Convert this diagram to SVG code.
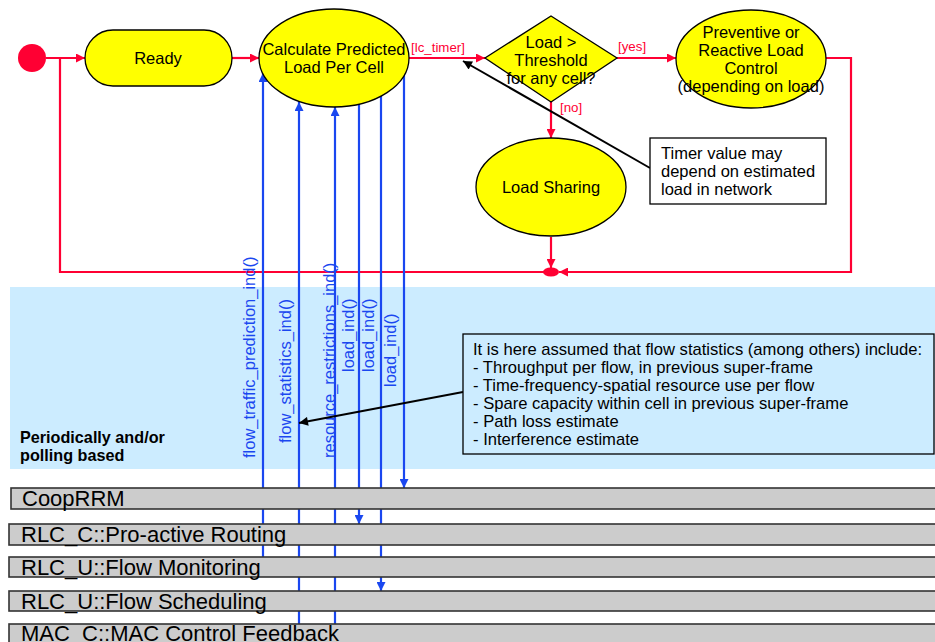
<svg xmlns="http://www.w3.org/2000/svg" width="935" height="642" viewBox="0 0 935 642">
  <style>
    .node { fill: #ffff00; stroke: #000; stroke-width: 1.3; }
    .ntxt { font-family: "Liberation Sans", Arial, sans-serif; font-size: 16.5px; fill: #000; text-anchor: middle; }
    .red { stroke: #ff0033; stroke-width: 2.2; fill: none; }
    .blue { stroke: #1a47f0; stroke-width: 2.2; fill: none; }
    .blk { stroke: #000; stroke-width: 2; fill: none; }
    .guard { font-family: "Liberation Sans", Arial, sans-serif; font-size: 13.3px; fill: #ff0033; }
    .msg { font-family: "Liberation Sans", Arial, sans-serif; font-size: 16.5px; fill: #1a47f0; }
    .note { font-family: "Liberation Sans", Arial, sans-serif; font-size: 16.5px; fill: #000; }
    .note2 { font-family: "Liberation Sans", Arial, sans-serif; font-size: 16.6px; fill: #000; }
    .lane { fill: #cccccc; stroke: #333; stroke-width: 1.6; }
    .ltxt { font-family: "Liberation Sans", Arial, sans-serif; font-size: 22px; fill: #000; }
    .band { font-family: "Liberation Sans", Arial, sans-serif; font-size: 16.2px; font-weight: bold; fill: #000; }
  </style>
  <defs>
    <marker id="ar" viewBox="0 0 10 10" refX="10" refY="5" markerWidth="9" markerHeight="9" markerUnits="userSpaceOnUse" orient="auto">
      <path d="M0,0 L10,5 L0,10 z" fill="#ff0033"/>
    </marker>
    <marker id="ab" viewBox="0 0 10 10" refX="10" refY="5" markerWidth="10" markerHeight="9" markerUnits="userSpaceOnUse" orient="auto">
      <path d="M0,0 L10,5 L0,10 z" fill="#1a47f0"/>
    </marker>
    <marker id="ak" viewBox="0 0 10 10" refX="10" refY="5" markerWidth="11" markerHeight="9" markerUnits="userSpaceOnUse" orient="auto">
      <path d="M0,0 L10,5 L0,10 z" fill="#000"/>
    </marker>
  </defs>

  <!-- background band for periodic / polling signals -->
  <rect x="10" y="287" width="925" height="182" fill="#ccecff"/>
  <text class="band" x="20" y="443">Periodically and/or</text>
  <text class="band" x="20" y="461">polling based</text>

  <!-- connectors -->
  <g id="connectors">
    <!-- state transitions -->
    <line class="red" x1="46" y1="58" x2="85" y2="58" marker-end="url(#ar)"/>
    <polyline class="red" points="60,58 60,272 548,272"/>
    <line class="red" x1="232" y1="58" x2="259" y2="58" marker-end="url(#ar)"/>
    <line class="red" x1="409" y1="58" x2="485" y2="58" marker-end="url(#ar)"/>
    <line class="red" x1="617" y1="58" x2="676" y2="58" marker-end="url(#ar)"/>
    <polyline class="red" points="826,58 851,58 851,272 559,272" marker-end="url(#ar)"/>
    <line class="red" x1="551" y1="102" x2="551" y2="138" marker-end="url(#ar)"/>
    <line class="red" x1="551" y1="237" x2="551" y2="268" marker-end="url(#ar)"/>
    <ellipse cx="551" cy="272" rx="8" ry="4.5" fill="#ff0033"/>
    <text class="guard" x="411" y="52">[lc_timer]</text>
    <text class="guard" x="618" y="51">[yes]</text>
    <text class="guard" x="560" y="112">[no]</text>

    <!-- signals between layers -->
    <line class="blue" x1="263" y1="558" x2="263" y2="73" marker-end="url(#ab)"/>
    <line class="blue" x1="299" y1="642" x2="299" y2="102" marker-end="url(#ab)"/>
    <line class="blue" x1="335" y1="642" x2="335" y2="107" marker-end="url(#ab)"/>
    <line class="blue" x1="359" y1="80" x2="359" y2="524" marker-end="url(#ab)"/>
    <line class="blue" x1="381" y1="80" x2="381" y2="591" marker-end="url(#ab)"/>
    <line class="blue" x1="404" y1="60" x2="404" y2="488" marker-end="url(#ab)"/>
    <text class="msg" transform="translate(255,458) rotate(-90)">flow_traffic_prediction_ind()</text>
    <text class="msg" transform="translate(291,443) rotate(-90)">flow_statistics_ind()</text>
    <text class="msg" transform="translate(335,458) rotate(-90)">resource_restrictions_ind()</text>
    <text class="msg" transform="translate(354,372) rotate(-90)">load_ind()</text>
    <text class="msg" transform="translate(374,372) rotate(-90)">load_ind()</text>
    <text class="msg" transform="translate(396,387) rotate(-90)">load_ind()</text>

    <!-- note pointers -->
    <line class="blk" x1="650" y1="168" x2="463" y2="61" marker-end="url(#ak)"/>
    <line class="blk" x1="463" y1="392" x2="299" y2="423" marker-end="url(#ak)"/>
  </g>

  <!-- states -->
  <g id="initial">
    <circle cx="32" cy="58" r="14" fill="#ff0033"/>
  </g>
  <g id="ready">
    <rect class="node" x="85" y="30" width="147" height="56" rx="28" ry="28"/>
    <text class="ntxt" x="158" y="64">Ready</text>
  </g>
  <g id="calculate">
    <ellipse class="node" cx="334" cy="58" rx="75" ry="49"/>
    <text class="ntxt" x="334" y="55">Calculate Predicted</text>
    <text class="ntxt" x="334" y="73">Load Per Cell</text>
  </g>
  <g id="threshold">
    <polygon class="node" points="551,16 617,58 551,102 485,58"/>
    <text class="ntxt" x="551" y="48">Load &gt;</text>
    <text class="ntxt" x="551" y="66">Threshold</text>
    <text class="ntxt" x="551" y="84">for any cell?</text>
  </g>
  <g id="load-control">
    <ellipse class="node" cx="751" cy="59" rx="75" ry="49"/>
    <text class="ntxt" x="751" y="38">Preventive or</text>
    <text class="ntxt" x="751" y="56">Reactive Load</text>
    <text class="ntxt" x="751" y="74">Control</text>
    <text class="ntxt" x="751" y="92">(depending on load)</text>
  </g>
  <g id="load-sharing">
    <ellipse class="node" cx="551" cy="187" rx="75" ry="49"/>
    <text class="ntxt" x="551" y="193">Load Sharing</text>
  </g>

  <!-- notes -->
  <g id="timer-note">
    <rect x="650" y="138" width="176" height="66" fill="#fff" stroke="#000" stroke-width="1.3"/>
    <text class="note" x="661" y="159">Timer value may</text>
    <text class="note" x="661" y="177">depend on estimated</text>
    <text class="note" x="661" y="195">load in network</text>
  </g>
  <g id="stats-note">
    <rect x="463" y="334" width="471" height="120" fill="#ccecff" stroke="#000" stroke-width="1.3"/>
    <text class="note2" x="473" y="355">It is here assumed that flow statistics (among others) include:</text>
    <text class="note2" x="473" y="373">- Throughput per flow, in previous super-frame</text>
    <text class="note2" x="473" y="391">- Time-frequency-spatial resource use per flow</text>
    <text class="note2" x="473" y="409">- Spare capacity within cell in previous super-frame</text>
    <text class="note2" x="473" y="427">- Path loss estimate</text>
    <text class="note2" x="473" y="445">- Interference estimate</text>
  </g>

  <!-- protocol layers -->
  <g id="coop-rrm">
    <rect class="lane" x="11" y="488" width="930" height="21"/>
    <text class="ltxt" x="22" y="506">CoopRRM</text>
  </g>
  <g id="rlc-c-routing">
    <rect class="lane" x="9" y="524" width="930" height="21"/>
    <text class="ltxt" x="21" y="542">RLC_C::Pro-active Routing</text>
  </g>
  <g id="rlc-u-monitoring">
    <rect class="lane" x="9" y="557" width="930" height="20"/>
    <text class="ltxt" x="21" y="575">RLC_U::Flow Monitoring</text>
  </g>
  <g id="rlc-u-scheduling">
    <rect class="lane" x="9" y="591" width="930" height="20"/>
    <text class="ltxt" x="21" y="609">RLC_U::Flow Scheduling</text>
  </g>
  <g id="mac-c-feedback">
    <rect class="lane" x="9" y="624" width="930" height="30"/>
    <text class="ltxt" x="21" y="641">MAC_C::MAC Control Feedback</text>
  </g>
</svg>
